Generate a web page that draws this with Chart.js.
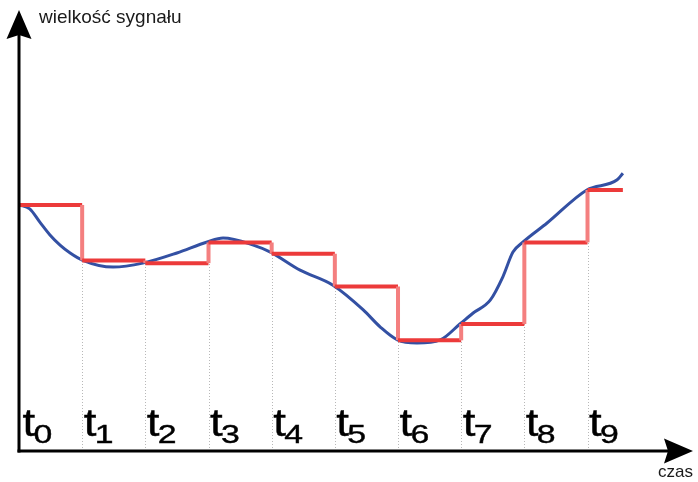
<!DOCTYPE html>
<html>
<head>
<meta charset="utf-8">
<script src="https://cdn.jsdelivr.net/npm/chart.js@4/dist/chart.umd.min.js"></script>
<style>
html,body{margin:0;padding:0;background:#fff;}
#wrap{width:698px;height:482px;}
</style>
</head>
<body>
<div id="wrap"><canvas id="c" width="698" height="482"></canvas></div>
<script>
// sampling instants t0..t9 (index) and the held (sampled) signal levels
const sampleTimes = [0, 1, 2, 3, 4, 5, 6, 7, 8, 9];
const sampleLabels = ['0','1','2','3','4','5','6','7','8','9'];
const heldLevels = [5.58, 4.32, 4.26, 4.73, 4.47, 3.73, 2.51, 2.88, 4.73, 5.92];
const lastHoldEnd = 9.56;

// continuous signal (blue curve) samples: time and value
const signalTime = [0, 0.17, 0.33, 0.49, 0.65, 0.81, 1.0, 1.49, 1.96, 2.50, 2.98, 3.23, 3.71, 3.98, 4.45, 4.97, 5.45, 5.72, 5.99, 6.30, 6.67, 6.98, 7.19, 7.46, 7.66, 7.82, 7.98, 8.36, 8.99, 9.47, 9.56];
const signalValue = [5.58, 5.49, 5.19, 4.90, 4.67, 4.49, 4.33, 4.17, 4.26, 4.49, 4.74, 4.83, 4.67, 4.51, 4.10, 3.76, 3.20, 2.81, 2.52, 2.45, 2.52, 2.88, 3.13, 3.42, 3.95, 4.51, 4.74, 5.17, 5.92, 6.15, 6.30];

const yAxisTitle = 'wielkość sygnału';
const xAxisTitle = 'czas';

// build step (sample & hold) points
const stepPts = [];
for (let i = 0; i < heldLevels.length; i++) {
  const x0 = sampleTimes[i];
  const x1 = i + 1 < sampleTimes.length ? sampleTimes[i + 1] : lastHoldEnd;
  stepPts.push({x: x0, y: heldLevels[i]});
  stepPts.push({x: x1, y: heldLevels[i]});
}
const signalPts = signalTime.map((t, i) => ({x: t, y: signalValue[i]}));

const RED = '#ec3a3a';
const PINK = '#f47f7f';
const BLUE = '#3350a3';

function arrowHead(ctx, tipX, tipY, dir) {
  const L = 29, W = 12.5, N = 4;
  ctx.beginPath();
  if (dir === 'up') {
    ctx.moveTo(tipX, tipY);
    ctx.lineTo(tipX + W, tipY + L);
    ctx.lineTo(tipX, tipY + L - N);
    ctx.lineTo(tipX - W, tipY + L);
  } else {
    ctx.moveTo(tipX, tipY);
    ctx.lineTo(tipX - L, tipY - W);
    ctx.lineTo(tipX - L + N, tipY);
    ctx.lineTo(tipX - L, tipY + W);
  }
  ctx.closePath();
  ctx.fill();
}

const decor = {
  id: 'decor',
  beforeDatasetsDraw(chart) {
    const ctx = chart.ctx, xs = chart.scales.x, ys = chart.scales.y;
    ctx.save();
    ctx.strokeStyle = '#b8b8b8';
    ctx.lineWidth = 1;
    ctx.setLineDash([1, 2]);
    for (let i = 1; i < sampleTimes.length; i++) {
      const lvl = Math.min(heldLevels[i], heldLevels[i - 1]);
      const x = Math.round(xs.getPixelForValue(sampleTimes[i])) + 0.5;
      ctx.beginPath();
      ctx.moveTo(x, ys.getPixelForValue(0));
      ctx.lineTo(x, ys.getPixelForValue(lvl));
      ctx.stroke();
    }
    ctx.restore();
  },
  afterDatasetsDraw(chart) {
    const ctx = chart.ctx, xs = chart.scales.x, ys = chart.scales.y;
    const x0 = xs.getPixelForValue(0), y0 = ys.getPixelForValue(0);
    const top = chart.chartArea.top, right = chart.chartArea.right;
    ctx.save();
    ctx.strokeStyle = '#000';
    ctx.fillStyle = '#000';
    ctx.lineWidth = 3;
    ctx.setLineDash([]);
    ctx.beginPath();
    ctx.moveTo(x0, y0 + 1.5);
    ctx.lineTo(x0, top + 24);
    ctx.stroke();
    ctx.beginPath();
    ctx.moveTo(x0 - 1.5, y0);
    ctx.lineTo(right - 24, y0);
    ctx.stroke();
    arrowHead(ctx, x0, top, 'up');
    arrowHead(ctx, right, y0, 'right');

    // axis titles
    ctx.fillStyle = '#1a1a1a';
    ctx.textBaseline = 'alphabetic';
    ctx.textAlign = 'left';
    ctx.font = '19px "Liberation Sans", Arial, sans-serif';
    ctx.fillText(yAxisTitle, x0 + 20, top + 13);
    ctx.textAlign = 'right';
    ctx.font = '17px "Liberation Sans", Arial, sans-serif';
    ctx.fillText(xAxisTitle, right, y0 + 26);

    // t_i labels
    ctx.fillStyle = '#000';
    ctx.strokeStyle = '#000';
    ctx.lineWidth = 0.4;
    ctx.textAlign = 'left';
    for (let i = 0; i < sampleTimes.length; i++) {
      const px = xs.getPixelForValue(sampleTimes[i]) + (i === 0 ? 3.5 : 1.5);
      ctx.save();
      ctx.translate(px, y0 - 15);
      ctx.scale(1.2, 1);
      ctx.font = '38px "Liberation Sans", Arial, sans-serif';
      ctx.fillText('t', 0, 0);
      ctx.strokeText('t', 0, 0);
      ctx.restore();
      ctx.save();
      ctx.translate(px + 11, y0 - 8);
      ctx.scale(1.3, 1);
      ctx.font = '26px "Liberation Sans", Arial, sans-serif';
      ctx.fillText(sampleLabels[i], 0, 0);
      ctx.strokeText(sampleLabels[i], 0, 0);
      ctx.restore();
    }
    ctx.restore();
  }
};

new Chart(document.getElementById('c'), {
  type: 'line',
  data: {
    datasets: [
      {
        data: signalPts,
        borderColor: BLUE,
        borderWidth: 3,
        pointRadius: 0,
        cubicInterpolationMode: 'monotone',
        fill: false,
        order: 2
      },
      {
        data: stepPts,
        borderColor: RED,
        borderWidth: 4,
        pointRadius: 0,
        tension: 0,
        fill: false,
        segment: {
          borderColor: c => (c.p0.parsed.x === c.p1.parsed.x ? PINK : RED)
        },
        order: 1
      }
    ]
  },
  options: {
    responsive: false,
    animation: false,
    devicePixelRatio: 1,
    layout: {padding: {left: 19, right: 5, top: 10, bottom: 31}},
    plugins: {legend: {display: false}, tooltip: {enabled: false}},
    scales: {
      x: {type: 'linear', min: 0, max: 10.67, display: false},
      y: {type: 'linear', min: 0, max: 10, display: false}
    }
  },
  plugins: [decor]
});
</script>
</body>
</html>
